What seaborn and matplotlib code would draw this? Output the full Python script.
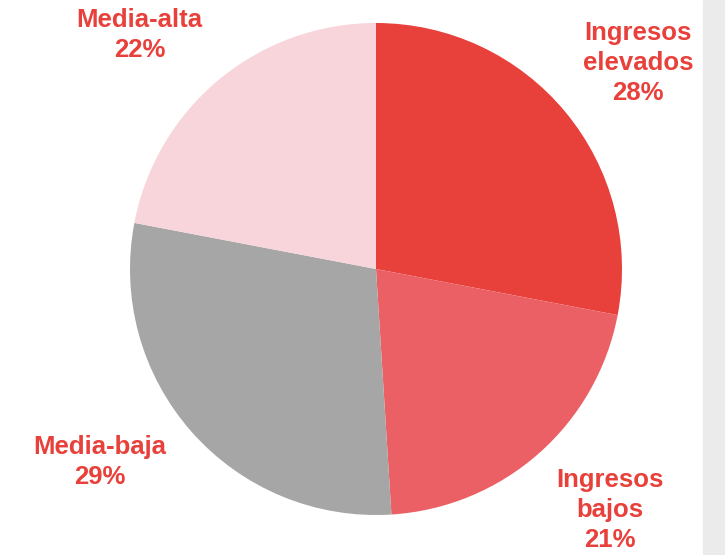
import matplotlib.pyplot as plt
import seaborn as sns

# income groups, clockwise from 12 o'clock
categories = ["Ingresos\nelevados", "Ingresos\nbajos", "Media-baja", "Media-alta"]
shares = [28, 21, 29, 22]
colors = ["#E8403A", "#EB6065", "#A6A6A6", "#F8D5DA"]
label_pos = [(1.065, 0.837), (0.951, -0.98), (-1.124, -0.785), (-0.961, 0.95)]

sns.set_style("white")
plt.rcParams['font.family'] = ['Liberation Sans', 'DejaVu Sans']

fig = plt.figure(figsize=(7.25, 5.55), dpi=100)
# grey strip on the right edge
fig.patches.append(plt.Rectangle((703 / 725, 0), 22 / 725, 1, transform=fig.transFigure,
                                 color="#EBEBEB", zorder=0))

ax = fig.add_axes([130 / 725, 40 / 555, 492 / 725, 492 / 555])
ax.pie(shares, colors=colors, startangle=90, counterclock=False, radius=1,
       wedgeprops=dict(linewidth=0))
ax.set_xlim(-1, 1)
ax.set_ylim(-1, 1)
ax.set_aspect("equal")
ax.axis("off")

for cat, val, (x, y) in zip(categories, shares, label_pos):
    ax.text(x, y, f"{cat}\n{val}%", ha="center", va="center", fontsize=18.5,
            fontweight="bold", color="#E8403A", linespacing=1.33, clip_on=False)

plt.savefig("out.png", dpi=100)
